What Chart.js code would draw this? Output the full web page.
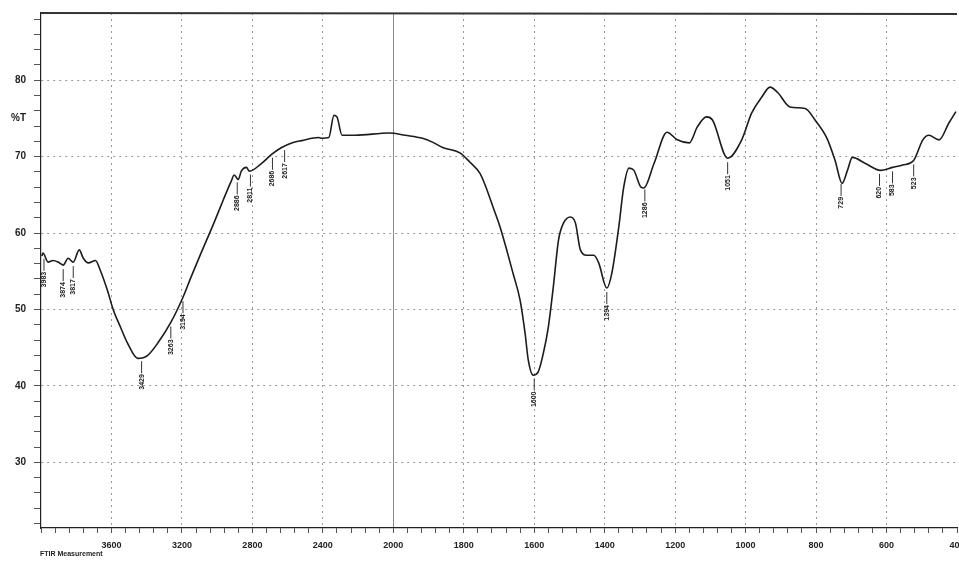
<!DOCTYPE html>
<html><head><meta charset="utf-8">
<script src="https://cdn.jsdelivr.net/npm/chart.js@4.4.1/dist/chart.umd.min.js"></script>
<style>html,body{margin:0;padding:0;background:#fff;}#wrap{width:959px;height:561px;}</style>
</head><body><div id="wrap"><canvas id="c" width="959" height="561"></canvas></div>
<script>
// Wavenumber (cm-1) and transmittance (%T)
const wavenumbers = [3995,3989,3960,3931,3903,3874,3846,3817,3783,3760,3731,3691,3663,3623,3589,3549,3509,3451,3394,3337,3263,3194,3149,3091,3017,2966,2920,2903,2880,2863,2834,2817,2749,2691,2634,2577,2520,2423,2406,2366,2337,2320,2291,2217,2023,1966,1917,1889,1860,1811,1783,1754,1737,1717,1697,1680,1660,1640,1626,1617,1603,1589,1574,1560,1546,1531,1517,1497,1483,1469,1451,1431,1417,1394,1380,1360,1346,1331,1317,1297,1289,1260,1223,1194,1160,1137,1111,1094,1051,1011,983,954,931,909,874,831,803,769,746,726,711,697,660,617,583,554,523,497,480,451,423,403];
const transmittance = [57.0,57.4,56.2,56.4,56.2,55.8,56.7,56.2,57.8,56.7,56.1,56.4,55.1,52.5,49.9,47.7,45.6,43.6,44.0,45.6,48.3,51.6,54.2,57.4,61.4,64.3,66.8,67.6,67.0,68.1,68.6,68.1,69.1,70.3,71.2,71.8,72.1,72.5,72.4,72.5,75.4,75.2,72.8,72.8,73.1,72.8,72.4,71.9,71.2,70.5,69.3,67.8,66.0,63.4,60.8,58.1,54.7,51.2,46.9,43.4,41.4,41.8,44.3,47.7,52.9,59.1,61.3,62.1,61.3,57.8,57.1,57.1,56.1,52.8,54.7,60.8,66.0,68.5,68.2,66.0,65.9,69.1,73.2,72.2,71.8,73.9,75.2,74.8,69.8,72.2,75.7,77.8,79.1,78.4,76.5,76.3,74.8,72.4,69.5,66.5,68.2,69.9,69.1,68.2,68.6,68.9,69.5,72.2,72.8,72.2,74.4,75.9];
const xTickLabels = [3600,3200,2800,2400,2000,1800,1600,1400,1200,1000,800,600,400];
const yTickLabels = [30,40,50,60,70,80];
const peakWavenumbers = [3983,3874,3817,3429,3263,3194,2886,2811,2686,2617,1600,1394,1286,1051,729,620,583,523];
const peakTexts = ["3983","3874","3817","3429","3263","3194","2886","2811","2686","2617","1600","1394","1286","1051","729","620","583","523"];

// FTIR axis: scale expands 2x below 2000 cm-1
function toPos(w){ return w >= 2000 ? 4000 - w : 2000 + (2000 - w) * 2; }
function fromPos(p){ return p <= 2000 ? 4000 - p : 2000 - (p - 2000) / 2; }
function interpT(w){
  for (let i = 0; i < wavenumbers.length - 1; i++) {
    const a = wavenumbers[i], b = wavenumbers[i+1];
    if (w <= a && w >= b) { const t = (a - w) / (a - b); return transmittance[i] + t * (transmittance[i+1] - transmittance[i]); }
  }
  return transmittance[transmittance.length - 1];
}

const decor = {
  id: 'decor',
  afterDraw(chart){
    const ctx = chart.ctx, ca = chart.chartArea, xs = chart.scales.x, ys = chart.scales.y;
    ctx.save();
    ctx.strokeStyle = '#333'; ctx.lineWidth = 2;
    ctx.beginPath(); ctx.moveTo(ca.left, ca.top); ctx.lineTo(ca.right, ca.top + 1); ctx.stroke();
    ctx.strokeStyle = '#333'; ctx.lineWidth = 1; ctx.fillStyle = '#222';
    ctx.font = 'bold 7px "Liberation Sans", Arial, sans-serif';
    peakWavenumbers.forEach((w, i) => {
      const px = xs.getPixelForValue(toPos(w));
      const py = ys.getPixelForValue(interpT(w));
      ctx.beginPath(); ctx.moveTo(px, py + 4); ctx.lineTo(px, py + 16); ctx.stroke();
      ctx.save();
      ctx.translate(px, py + 17);
      ctx.rotate(-Math.PI / 2);
      ctx.textAlign = 'right'; ctx.textBaseline = 'middle';
      ctx.fillText(peakTexts[i], 0, 0);
      ctx.restore();
    });
    ctx.fillStyle = '#222';
    ctx.font = 'bold 7px "Liberation Sans", Arial, sans-serif';
    ctx.textAlign = 'left'; ctx.textBaseline = 'middle';
    ctx.fillText('FTIR Measurement', ca.left - 1, 554);
    ctx.restore();
  }
};

new Chart(document.getElementById('c'), {
  type: 'line',
  data: { datasets: [{
    data: wavenumbers.map((w, i) => ({ x: toPos(w), y: transmittance[i] })),
    borderColor: '#1c1c1c', borderWidth: 1.6, pointRadius: 0,
    cubicInterpolationMode: 'monotone', fill: false
  }]},
  options: {
    responsive: false, animation: false,
    layout: { padding: { top: 13, right: 2, left: 0, bottom: 0 } },
    plugins: { legend: { display: false }, tooltip: { enabled: false } },
    scales: {
      x: {
        type: 'linear', min: 0, max: 5200,
        afterBuildTicks: s => { const t = []; for (let v = 0; v <= 5200; v += 80) t.push({ value: v }); s.ticks = t; },
        afterFit: s => { s.height = 33; s.paddingRight = 0; s.paddingLeft = 0; },
        ticks: {
          autoSkip: false, maxRotation: 0, minRotation: 0, padding: 7, color: '#222',
          font: { family: '"Liberation Sans", Arial, sans-serif', size: 9, weight: 'bold' },
          callback: v => { if (v % 400 !== 0 || v === 0) return ''; const w = fromPos(v); return xTickLabels.includes(w) ? String(w) : ''; }
        },
        grid: {
          color: c => { const v = c.tick ? c.tick.value : -1; if (v === 2000) return '#8a8a8a'; return (v % 400 === 0 && v > 0 && v < 5200) ? '#9a9a9a' : 'rgba(0,0,0,0)'; },
          lineWidth: 1, tickLength: 5, tickColor: '#555'
        },
        border: { display: true, color: '#222', width: 1.2, dash: c => (c.tick && c.tick.value === 2000) ? [] : [2, 4] }
      },
      y: {
        type: 'linear', min: 21.4, max: 88.8,
        afterBuildTicks: s => { const t = []; for (let v = 22; v <= 88; v += 2) t.push(v); t.push(75); t.sort((a, b) => a - b); s.ticks = t.map(v => ({ value: v })); },
        afterFit: s => { s.width = 41; s.paddingTop = 0; s.paddingBottom = 0; },
        ticks: {
          autoSkip: false, padding: 8, color: '#222',
          font: { family: '"Liberation Sans", Arial, sans-serif', size: 10, weight: 'bold' },
          callback: v => v === 75 ? '%T' : (yTickLabels.includes(v) ? String(v) : '')
        },
        grid: {
          color: c => (c.tick && yTickLabels.includes(c.tick.value)) ? '#9a9a9a' : 'rgba(0,0,0,0)',
          lineWidth: 1, tickLength: 7,
          tickColor: c => (c.tick && c.tick.value === 75) ? 'rgba(0,0,0,0)' : '#555'
        },
        border: { display: true, color: '#222', width: 1.2, dash: [2, 4] }
      }
    }
  },
  plugins: [decor]
});
</script></body></html>
